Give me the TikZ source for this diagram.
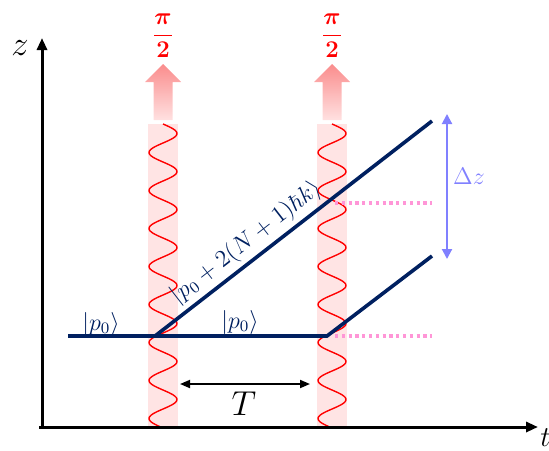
\documentclass[tikz,border=0pt]{standalone}
\usepackage{amsmath,amssymb,bm}
\usetikzlibrary{arrows.meta,positioning,calc}
\definecolor{navy}{RGB}{0,32,96}
\definecolor{beampink}{RGB}{255,228,228}
\definecolor{arrowtop}{RGB}{250,140,140}
\definecolor{arrowbot}{RGB}{255,225,225}
\definecolor{dotpink}{RGB}{255,150,215}
\definecolor{dzblue}{RGB}{128,128,255}

\begin{document}
\begin{tikzpicture}[x=0.5pt, y=-0.5pt, >=Stealth]
\tikzset{
  axis/.style={line width=1.5pt, -{Triangle[length=6pt,width=5pt]}},
  beam/.style={fill=beampink, draw=none},
  wave/.style={red, line width=0.7pt},
  traj/.style={navy, line width=1.8pt},
  guide/.style={dotpink, line width=1.6pt, dash pattern=on 1.6pt off 1.8pt},
  lbl/.style={navy, font=\fontsize{12}{14}\selectfont, inner sep=1pt},
  pulse/.style={red, font=\fontsize{12.5}{14}\selectfont, inner sep=0pt}
}
\useasboundingbox (0,0) rectangle (549,450);

\foreach \cx/\nm in {163/a,332/b}{
  \fill[beam] (\cx-15,124) rectangle (\cx+15,427);
  \draw[wave] plot[domain=0:8, samples=240, smooth] ({\cx+14*sin(360*\x)}, {124+38*\x});
  \shade[top color=arrowtop, bottom color=arrowbot]
    (\cx-9.5,120) -- (\cx-9.5,82) -- (\cx-18,82) -- (\cx,64) -- (\cx+18,82) -- (\cx+9.5,82) -- (\cx+9.5,120) -- cycle;
  \node[pulse] (pi\nm) at (\cx,36) {$\displaystyle\frac{\bm{\pi}}{\mathbf{2}}$};
}

\coordinate (o) at (42,427);
\coordinate (ztip) at (42,38);
\coordinate (ttip) at (538,427);
\draw[axis] (o) -- (ztip);
\draw[axis] ($(o)+(-3,0)$) -- (ttip);
\node[font=\fontsize{16}{18}\selectfont, inner sep=0pt] (zl) at (20,48) {$z$};
\node[font=\fontsize{15}{17}\selectfont, inner sep=0pt, anchor=north west] (tl) at (540,428) {$t$};

\coordinate (start) at (68,336);
\coordinate (kick1) at (155,336);
\coordinate (kick2) at (327,336);
\coordinate (upend) at (432,121);
\coordinate (lowend) at (432,256);
\draw[traj] (start) -- (kick2) -- (lowend);
\draw[traj] (kick1) -- (upend) node[lbl, font=\fontsize{11.5}{13}\selectfont, pos=0.37, sloped, above=1pt] (upper) {$|p_0+2(N+1)\hbar k\rangle$};
\node[lbl] (p0a) at (101,324) {$|p_0\rangle$};
\node[lbl] (p0b) at (240,322) {$|p_0\rangle$};

\coordinate (cross) at (335,203);
\coordinate (crossend) at (432,203);
\coordinate (base) at (335,336);
\coordinate (baseend) at (432,336);
\draw[guide] (cross) -- (crossend);
\draw[guide] (base) -- (baseend);

\coordinate (dztop) at (447,114);
\coordinate (dzbot) at (447,259);
\draw[dzblue, line width=1pt, {Triangle[length=5pt,width=5pt]}-{Triangle[length=5pt,width=5pt]}] (dztop) -- (dzbot);
\node[dzblue, font=\fontsize{12}{14}\selectfont] (dz) at (469,176) {$\Delta z$};

\coordinate (tl1) at (180,384);
\coordinate (tr1) at (310,384);
\draw[line width=0.9pt, {Triangle[length=5pt,width=4pt]}-{Triangle[length=5pt,width=4pt]}] (tl1) -- (tr1);
\node[font=\fontsize{16}{18}\selectfont] (tlab) at (244,404) {$T$};
\end{tikzpicture}
\end{document}
